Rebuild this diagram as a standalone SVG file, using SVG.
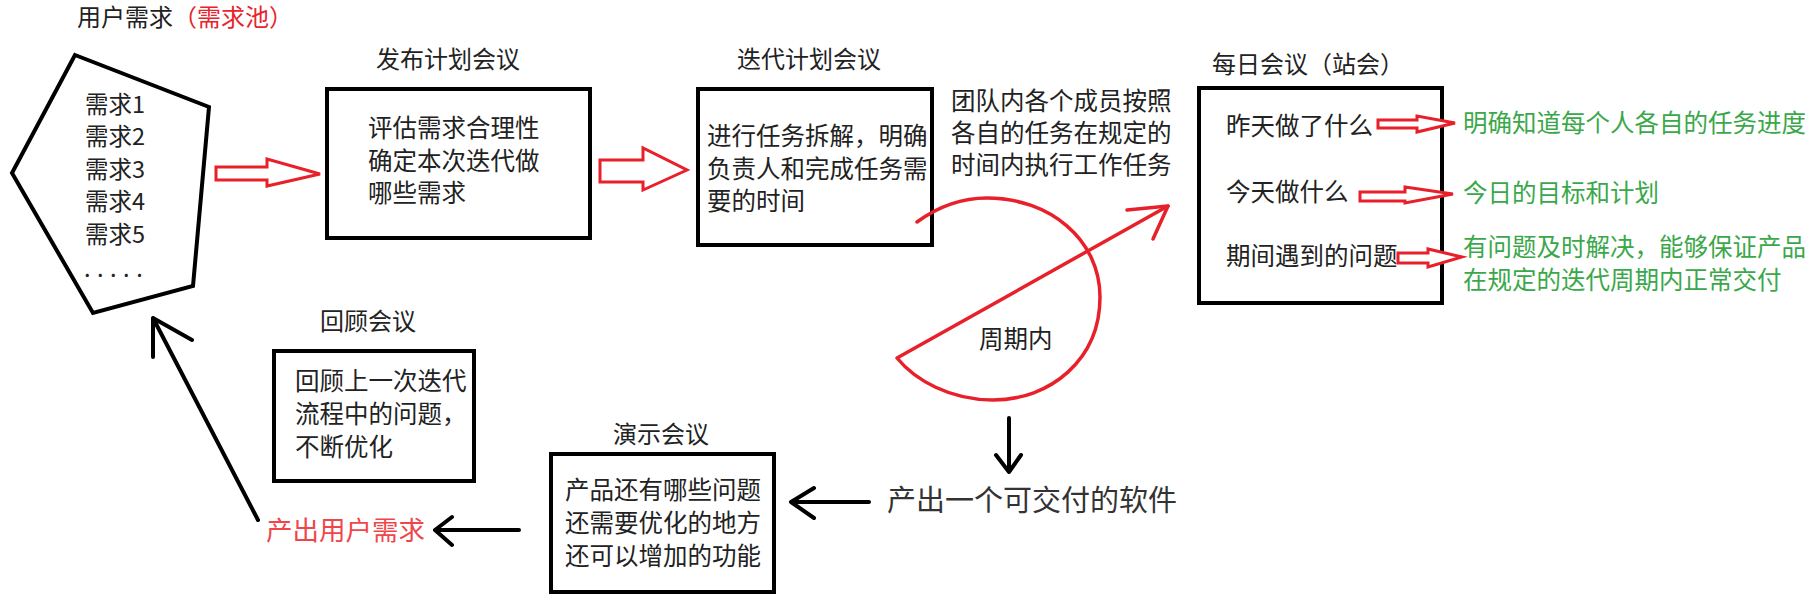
<svg xmlns="http://www.w3.org/2000/svg" width="1815" height="603" viewBox="0 0 1815 603">
<style>
text{font-family:"Noto Sans CJK SC","Noto Sans",sans-serif;fill:#222}
.tt{font-size:24px}
.tb{font-size:24.5px}
.red{fill:#e8242c}
.redl{fill:#f0464a}
.green{fill:#3aa84a}
.box{fill:none;stroke:#000;stroke-width:4}
.blk{fill:none;stroke:#000;stroke-width:4;stroke-linecap:round;stroke-linejoin:round}
.hollow{fill:#fff;stroke:#e8202a;stroke-width:3;stroke-linejoin:miter}
.redline{fill:none;stroke:#e8202a;stroke-width:3.5;stroke-linecap:round;stroke-linejoin:round}
</style>
<rect width="1815" height="603" fill="#fff"/>

<g id="pool">
<text class="tt" x="77" y="26">用户需求<tspan class="red">（需求池）</tspan></text>
<polygon class="box" points="75,55 209,107 193,286 93,313 12,173"/>
<text x="85" y="113" style="font-size:23.5px">需求1</text>
<text x="85" y="145" style="font-size:23.5px">需求2</text>
<text x="85" y="178" style="font-size:23.5px">需求3</text>
<text x="85" y="210" style="font-size:23.5px">需求4</text>
<text x="85" y="243" style="font-size:23.5px">需求5</text>
<text x="84" y="277" style="font-size:23.5px" letter-spacing="6.5">.....</text>
</g>

<g id="release">
<text class="tt" x="376" y="68">发布计划会议</text>
<rect class="box" x="327" y="89" width="263" height="149"/>
<text class="tb" x="368" y="137">评估需求合理性</text>
<text class="tb" x="368" y="170">确定本次迭代做</text>
<text class="tb" x="368" y="202">哪些需求</text>
</g>

<g id="iteration">
<text class="tt" x="737" y="68">迭代计划会议</text>
<rect class="box" x="698" y="89" width="234" height="156"/>
<text class="tb" x="707" y="145">进行任务拆解，明确</text>
<text class="tb" x="707" y="178">负责人和完成任务需</text>
<text class="tb" x="707" y="210">要的时间</text>
</g>

<g id="execute">
<text class="tb" x="951" y="110">团队内各个成员按照</text>
<text class="tb" x="951" y="142">各自的任务在规定的</text>
<text class="tb" x="951" y="174">时间内执行工作任务</text>
<text class="tb" x="979" y="348">周期内</text>
</g>

<g id="daily">
<text class="tt" x="1212" y="73">每日会议（站会）</text>
<rect class="box" x="1199" y="88" width="243" height="215"/>
<text class="tb" x="1226" y="135">昨天做了什么</text>
<text class="tb" x="1226" y="201">今天做什么</text>
<text class="tb" x="1226" y="265">期间遇到的问题</text>
<text class="tb green" x="1463" y="132">明确知道每个人各自的任务进度</text>
<text class="tb green" x="1463" y="202">今日的目标和计划</text>
<text class="tb green" x="1463" y="256">有问题及时解决，能够保证产品</text>
<text class="tb green" x="1463" y="289">在规定的迭代周期内正常交付</text>
</g>

<g id="deliver">
<text x="887" y="511" style="font-size:29px;fill:#333">产出一个可交付的软件</text>
</g>

<g id="demo">
<text class="tt" x="613" y="443">演示会议</text>
<rect class="box" x="551" y="454" width="223" height="138"/>
<text class="tb" x="565" y="499">产品还有哪些问题</text>
<text class="tb" x="565" y="532">还需要优化的地方</text>
<text class="tb" x="565" y="565">还可以增加的功能</text>
</g>

<g id="retro">
<text class="tt" x="320" y="330">回顾会议</text>
<rect class="box" x="274" y="351" width="200" height="130"/>
<text class="tb" x="295" y="390">回顾上一次迭代</text>
<text class="tb" x="295" y="423">流程中的问题，</text>
<text class="tb" x="295" y="456">不断优化</text>
</g>

<g id="output">
<text class="redl" x="266" y="540" style="font-size:26.5px">产出用户需求</text>
</g>

<g id="connectors">
<polygon class="hollow" points="216,167 267,167 267,159 320,174 267,186 267,180 216,180"/>
<polygon class="hollow" points="600,160 643,160 643,148 687,170 643,190 643,182 600,182"/>
<polygon class="hollow" points="1378,120 1417,120 1417,116 1455,123 1417,132 1417,128 1378,128"/>
<polygon class="hollow" points="1360,192 1405,192 1405,187 1453,194 1405,203 1405,201 1360,201"/>
<polygon class="hollow" points="1398,253 1428,253 1428,249 1462,257 1428,267 1428,263 1398,263"/>
<path class="redline" d="M917,222 Q950,198 987,198 C1050,198 1100,240 1100,297 C1100,360 1050,400 993,400 C950,400 915,380 897,358 L1168,206"/>
<path class="redline" d="M1127,210 L1168,206 L1153,239"/>
<path class="blk" d="M1009,418 L1009,472 M996,455 L1009,472 L1021,455"/>
<path class="blk" d="M869,502 L791,502 M814,488 L791,502 L814,518"/>
<path class="blk" d="M519,530 L435,530 M452,517 L435,530 L452,545"/>
<path class="blk" d="M258,520 L153,318 M153,357 L153,318 L192,340"/>
</g>
</svg>
